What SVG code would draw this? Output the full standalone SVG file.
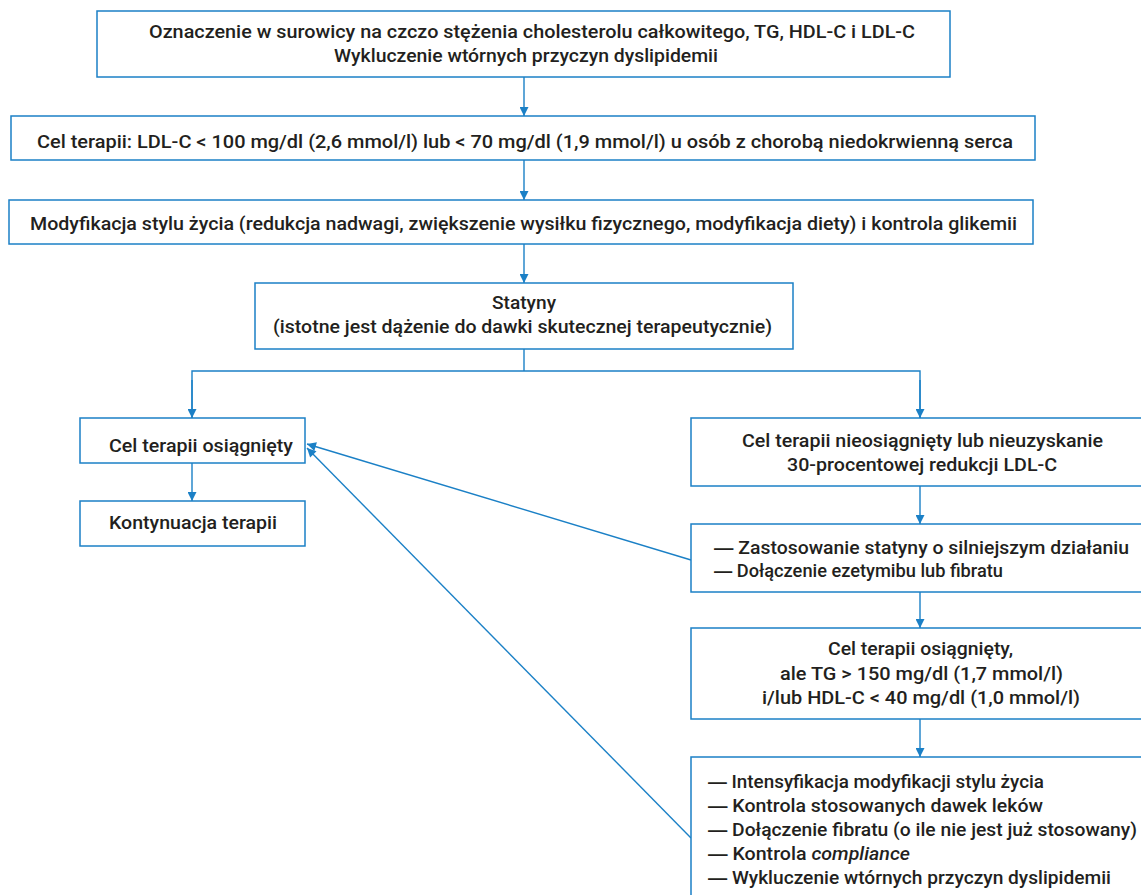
<svg xmlns="http://www.w3.org/2000/svg" width="1141" height="895" viewBox="0 0 1141 895">
<defs>
<style>
.box{fill:#fff;stroke:#1b80c6;stroke-width:1.5}
.t{font-family:Roboto,"Open Sans","Liberation Sans",sans-serif;font-weight:500;font-size:18.5px;fill:#231f20}
.d{font-family:"Liberation Sans","DejaVu Sans",sans-serif;font-weight:700}
.ln{fill:none;stroke:#1b80c6;stroke-width:1.4}
</style>
<marker id="ah" viewBox="0 0 10 10" refX="10" refY="5" markerWidth="10" markerHeight="9" markerUnits="userSpaceOnUse" orient="auto">
<path d="M0,0 L10,5 L0,10 z" fill="#1b80c6"/>
</marker>
</defs>
<rect width="1141" height="895" fill="#fff"/>
<g id="connectors">
<line class="ln" x1="524" y1="77" x2="524" y2="116" marker-end="url(#ah)"/>
<line class="ln" x1="524" y1="160" x2="524" y2="200" marker-end="url(#ah)"/>
<line class="ln" x1="524" y1="244" x2="524" y2="283" marker-end="url(#ah)"/>
<polyline class="ln" points="524,349 524,371"/>
<polyline class="ln" points="192,418 192,371 920,371 920,418"/>
<line class="ln" x1="192" y1="380" x2="192" y2="418" marker-end="url(#ah)"/>
<line class="ln" x1="920" y1="380" x2="920" y2="418" marker-end="url(#ah)"/>
<line class="ln" x1="192" y1="463" x2="192" y2="501" marker-end="url(#ah)"/>
<line class="ln" x1="920" y1="486" x2="920" y2="524" marker-end="url(#ah)"/>
<line class="ln" x1="920" y1="592" x2="920" y2="628" marker-end="url(#ah)"/>
<line class="ln" x1="920" y1="719" x2="920" y2="757" marker-end="url(#ah)"/>
<line class="ln" x1="691" y1="560" x2="307" y2="444" marker-end="url(#ah)"/>
<line class="ln" x1="691" y1="838" x2="307" y2="448" marker-end="url(#ah)"/>
</g>
<g id="n1">
<rect class="box" x="97" y="11" width="853" height="66"/>
<text class="t" x="149" y="38" textLength="766" lengthAdjust="spacingAndGlyphs">Oznaczenie w surowicy na czczo stężenia cholesterolu całkowitego, TG, HDL-C i LDL-C</text>
<text class="t" x="334" y="62" textLength="384" lengthAdjust="spacingAndGlyphs">Wykluczenie wtórnych przyczyn dyslipidemii</text>
</g>
<g id="n2">
<rect class="box" x="11" y="116" width="1024" height="44"/>
<text class="t" x="37" y="148" textLength="976" lengthAdjust="spacingAndGlyphs">Cel terapii: LDL-C &lt; 100 mg/dl (2,6 mmol/l) lub &lt; 70 mg/dl (1,9 mmol/l) u osób z chorobą niedokrwienną serca</text>
</g>
<g id="n3">
<rect class="box" x="9" y="200" width="1024" height="44"/>
<text class="t" x="30" y="230" textLength="987" lengthAdjust="spacingAndGlyphs">Modyfikacja stylu życia (redukcja nadwagi, zwiększenie wysiłku fizycznego, modyfikacja diety) i kontrola glikemii</text>
</g>
<g id="n4">
<rect class="box" x="255" y="283" width="538" height="66"/>
<text class="t" x="492" y="309" textLength="64" lengthAdjust="spacingAndGlyphs">Statyny</text>
<text class="t" x="273" y="333" textLength="499" lengthAdjust="spacingAndGlyphs">(istotne jest dążenie do dawki skutecznej terapeutycznie)</text>
</g>
<g id="n5">
<rect class="box" x="80" y="418" width="225" height="45"/>
<text class="t" x="109" y="452" textLength="184" lengthAdjust="spacingAndGlyphs">Cel terapii osiągnięty</text>
</g>
<g id="n6">
<rect class="box" x="80" y="501" width="225" height="45"/>
<text class="t" x="109" y="529" textLength="168" lengthAdjust="spacingAndGlyphs">Kontynuacja terapii</text>
</g>
<g id="r1">
<rect class="box" x="691" y="418" width="460" height="68"/>
<text class="t" x="742" y="447" textLength="361" lengthAdjust="spacingAndGlyphs">Cel terapii nieosiągnięty lub nieuzyskanie</text>
<text class="t" x="787" y="471" textLength="270" lengthAdjust="spacingAndGlyphs">30-procentowej redukcji LDL-C</text>
</g>
<g id="r2">
<rect class="box" x="691" y="524" width="460" height="68"/>
<text class="t" x="714" y="554" textLength="415" lengthAdjust="spacingAndGlyphs"><tspan class="d">—</tspan> Zastosowanie statyny o silniejszym działaniu</text>
<text class="t" x="714" y="577" textLength="289" lengthAdjust="spacingAndGlyphs"><tspan class="d">—</tspan> Dołączenie ezetymibu lub fibratu</text>
</g>
<g id="r3">
<rect class="box" x="691" y="628" width="460" height="91"/>
<text class="t" x="828" y="655" textLength="185" lengthAdjust="spacingAndGlyphs">Cel terapii osiągnięty,</text>
<text class="t" x="780" y="680" textLength="283" lengthAdjust="spacingAndGlyphs">ale TG &gt; 150 mg/dl (1,7 mmol/l)</text>
<text class="t" x="762" y="704" textLength="318" lengthAdjust="spacingAndGlyphs">i/lub HDL-C &lt; 40 mg/dl (1,0 mmol/l)</text>
</g>
<g id="r4">
<rect class="box" x="691" y="757" width="460" height="160"/>
<text class="t" x="708" y="788" textLength="336" lengthAdjust="spacingAndGlyphs"><tspan class="d">—</tspan> Intensyfikacja modyfikacji stylu życia</text>
<text class="t" x="708" y="812" textLength="335" lengthAdjust="spacingAndGlyphs"><tspan class="d">—</tspan> Kontrola stosowanych dawek leków</text>
<text class="t" x="708" y="836" textLength="429" lengthAdjust="spacingAndGlyphs"><tspan class="d">—</tspan> Dołączenie fibratu (o ile nie jest już stosowany)</text>
<text class="t" x="708" y="860" textLength="202" lengthAdjust="spacingAndGlyphs"><tspan class="d">—</tspan> Kontrola <tspan font-style="italic">compliance</tspan></text>
<text class="t" x="708" y="884" textLength="403" lengthAdjust="spacingAndGlyphs"><tspan class="d">—</tspan> Wykluczenie wtórnych przyczyn dyslipidemii</text>
</g>
</svg>
